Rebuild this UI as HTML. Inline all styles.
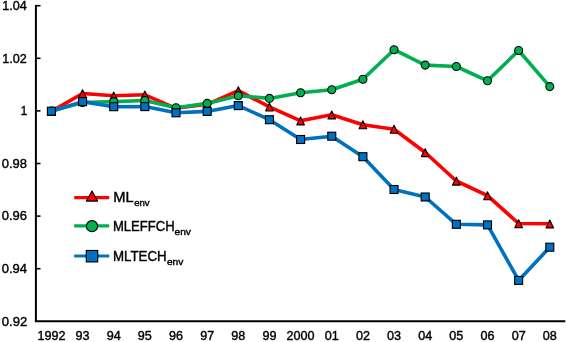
<!DOCTYPE html>
<html><head><meta charset="utf-8">
<style>
html,body{margin:0;padding:0;background:#fff;}
body{width:567px;height:342px;position:relative;overflow:hidden;}
svg{position:absolute;left:0;top:0;will-change:transform;}
text{font-family:"Liberation Sans",sans-serif;fill:#000;stroke:#000;stroke-width:0.4px;}
</style></head>
<body>
<svg width="567" height="342" viewBox="0 0 567 342">
<line x1="35.9" y1="4.9" x2="35.9" y2="321.3" stroke="#000" stroke-width="2"/>
<line x1="34.9" y1="321.3" x2="565.3" y2="321.3" stroke="#000" stroke-width="1.9"/>
<line x1="35.9" y1="5.7" x2="40.5" y2="5.7" stroke="#000" stroke-width="1.6"/>
<line x1="35.9" y1="58.3" x2="40.5" y2="58.3" stroke="#000" stroke-width="1.6"/>
<line x1="35.9" y1="110.9" x2="40.5" y2="110.9" stroke="#000" stroke-width="1.6"/>
<line x1="35.9" y1="163.5" x2="40.5" y2="163.5" stroke="#000" stroke-width="1.6"/>
<line x1="35.9" y1="216.1" x2="40.5" y2="216.1" stroke="#000" stroke-width="1.6"/>
<line x1="35.9" y1="268.7" x2="40.5" y2="268.7" stroke="#000" stroke-width="1.6"/>
<polyline points="51.40,111.40 82.55,93.50 113.70,95.80 144.85,94.80 176.00,108.30 207.15,104.30 238.30,90.60 269.45,106.90 300.60,120.80 331.75,114.80 362.90,124.70 394.05,129.20 425.20,152.50 456.35,181.00 487.50,195.60 518.65,223.50 549.80,223.80" fill="none" stroke="#ff0000" stroke-width="3.6" stroke-linejoin="round" stroke-linecap="round"/>
<polygon points="51.40,107.55 55.20,115.50 47.60,115.50" fill="#ff0000" stroke="#000" stroke-width="1.1" stroke-linejoin="round"/>
<polygon points="82.55,89.65 86.35,97.60 78.75,97.60" fill="#ff0000" stroke="#000" stroke-width="1.1" stroke-linejoin="round"/>
<polygon points="113.70,91.95 117.50,99.90 109.90,99.90" fill="#ff0000" stroke="#000" stroke-width="1.1" stroke-linejoin="round"/>
<polygon points="144.85,90.95 148.65,98.90 141.05,98.90" fill="#ff0000" stroke="#000" stroke-width="1.1" stroke-linejoin="round"/>
<polygon points="176.00,104.45 179.80,112.40 172.20,112.40" fill="#ff0000" stroke="#000" stroke-width="1.1" stroke-linejoin="round"/>
<polygon points="207.15,100.45 210.95,108.40 203.35,108.40" fill="#ff0000" stroke="#000" stroke-width="1.1" stroke-linejoin="round"/>
<polygon points="238.30,86.75 242.10,94.70 234.50,94.70" fill="#ff0000" stroke="#000" stroke-width="1.1" stroke-linejoin="round"/>
<polygon points="269.45,103.05 273.25,111.00 265.65,111.00" fill="#ff0000" stroke="#000" stroke-width="1.1" stroke-linejoin="round"/>
<polygon points="300.60,116.95 304.40,124.90 296.80,124.90" fill="#ff0000" stroke="#000" stroke-width="1.1" stroke-linejoin="round"/>
<polygon points="331.75,110.95 335.55,118.90 327.95,118.90" fill="#ff0000" stroke="#000" stroke-width="1.1" stroke-linejoin="round"/>
<polygon points="362.90,120.85 366.70,128.80 359.10,128.80" fill="#ff0000" stroke="#000" stroke-width="1.1" stroke-linejoin="round"/>
<polygon points="394.05,125.35 397.85,133.30 390.25,133.30" fill="#ff0000" stroke="#000" stroke-width="1.1" stroke-linejoin="round"/>
<polygon points="425.20,148.65 429.00,156.60 421.40,156.60" fill="#ff0000" stroke="#000" stroke-width="1.1" stroke-linejoin="round"/>
<polygon points="456.35,177.15 460.15,185.10 452.55,185.10" fill="#ff0000" stroke="#000" stroke-width="1.1" stroke-linejoin="round"/>
<polygon points="487.50,191.75 491.30,199.70 483.70,199.70" fill="#ff0000" stroke="#000" stroke-width="1.1" stroke-linejoin="round"/>
<polygon points="518.65,219.65 522.45,227.60 514.85,227.60" fill="#ff0000" stroke="#000" stroke-width="1.1" stroke-linejoin="round"/>
<polygon points="549.80,219.95 553.60,227.90 546.00,227.90" fill="#ff0000" stroke="#000" stroke-width="1.1" stroke-linejoin="round"/>
<polyline points="51.40,111.10 82.55,102.50 113.70,101.60 144.85,100.50 176.00,107.70 207.15,103.40 238.30,95.70 269.45,98.40 300.60,92.70 331.75,89.70 362.90,79.30 394.05,49.70 425.20,65.10 456.35,66.50 487.50,80.80 518.65,50.50 549.80,86.60" fill="none" stroke="#00b050" stroke-width="3.6" stroke-linejoin="round" stroke-linecap="round"/>
<circle cx="51.40" cy="111.10" r="4.00" fill="#00b050" stroke="#000" stroke-width="1.1"/>
<circle cx="82.55" cy="102.50" r="4.00" fill="#00b050" stroke="#000" stroke-width="1.1"/>
<circle cx="113.70" cy="101.60" r="4.00" fill="#00b050" stroke="#000" stroke-width="1.1"/>
<circle cx="144.85" cy="100.50" r="4.00" fill="#00b050" stroke="#000" stroke-width="1.1"/>
<circle cx="176.00" cy="107.70" r="4.00" fill="#00b050" stroke="#000" stroke-width="1.1"/>
<circle cx="207.15" cy="103.40" r="4.00" fill="#00b050" stroke="#000" stroke-width="1.1"/>
<circle cx="238.30" cy="95.70" r="4.00" fill="#00b050" stroke="#000" stroke-width="1.1"/>
<circle cx="269.45" cy="98.40" r="4.00" fill="#00b050" stroke="#000" stroke-width="1.1"/>
<circle cx="300.60" cy="92.70" r="4.00" fill="#00b050" stroke="#000" stroke-width="1.1"/>
<circle cx="331.75" cy="89.70" r="4.00" fill="#00b050" stroke="#000" stroke-width="1.1"/>
<circle cx="362.90" cy="79.30" r="4.00" fill="#00b050" stroke="#000" stroke-width="1.1"/>
<circle cx="394.05" cy="49.70" r="4.00" fill="#00b050" stroke="#000" stroke-width="1.1"/>
<circle cx="425.20" cy="65.10" r="4.00" fill="#00b050" stroke="#000" stroke-width="1.1"/>
<circle cx="456.35" cy="66.50" r="4.00" fill="#00b050" stroke="#000" stroke-width="1.1"/>
<circle cx="487.50" cy="80.80" r="4.00" fill="#00b050" stroke="#000" stroke-width="1.1"/>
<circle cx="518.65" cy="50.50" r="4.00" fill="#00b050" stroke="#000" stroke-width="1.1"/>
<circle cx="549.80" cy="86.60" r="4.00" fill="#00b050" stroke="#000" stroke-width="1.1"/>
<polyline points="51.40,111.20 82.55,101.60 113.70,106.70 144.85,106.60 176.00,112.80 207.15,111.40 238.30,105.60 269.45,119.70 300.60,139.50 331.75,136.20 362.90,156.70 394.05,189.50 425.20,197.00 456.35,224.30 487.50,224.90 518.65,280.40 549.80,247.20" fill="none" stroke="#0070c0" stroke-width="3.6" stroke-linejoin="round" stroke-linecap="round"/>
<rect x="47.40" y="107.20" width="8.00" height="8.00" fill="#0070c0" stroke="#000" stroke-width="1.1"/>
<rect x="78.55" y="97.60" width="8.00" height="8.00" fill="#0070c0" stroke="#000" stroke-width="1.1"/>
<rect x="109.70" y="102.70" width="8.00" height="8.00" fill="#0070c0" stroke="#000" stroke-width="1.1"/>
<rect x="140.85" y="102.60" width="8.00" height="8.00" fill="#0070c0" stroke="#000" stroke-width="1.1"/>
<rect x="172.00" y="108.80" width="8.00" height="8.00" fill="#0070c0" stroke="#000" stroke-width="1.1"/>
<rect x="203.15" y="107.40" width="8.00" height="8.00" fill="#0070c0" stroke="#000" stroke-width="1.1"/>
<rect x="234.30" y="101.60" width="8.00" height="8.00" fill="#0070c0" stroke="#000" stroke-width="1.1"/>
<rect x="265.45" y="115.70" width="8.00" height="8.00" fill="#0070c0" stroke="#000" stroke-width="1.1"/>
<rect x="296.60" y="135.50" width="8.00" height="8.00" fill="#0070c0" stroke="#000" stroke-width="1.1"/>
<rect x="327.75" y="132.20" width="8.00" height="8.00" fill="#0070c0" stroke="#000" stroke-width="1.1"/>
<rect x="358.90" y="152.70" width="8.00" height="8.00" fill="#0070c0" stroke="#000" stroke-width="1.1"/>
<rect x="390.05" y="185.50" width="8.00" height="8.00" fill="#0070c0" stroke="#000" stroke-width="1.1"/>
<rect x="421.20" y="193.00" width="8.00" height="8.00" fill="#0070c0" stroke="#000" stroke-width="1.1"/>
<rect x="452.35" y="220.30" width="8.00" height="8.00" fill="#0070c0" stroke="#000" stroke-width="1.1"/>
<rect x="483.50" y="220.90" width="8.00" height="8.00" fill="#0070c0" stroke="#000" stroke-width="1.1"/>
<rect x="514.65" y="276.40" width="8.00" height="8.00" fill="#0070c0" stroke="#000" stroke-width="1.1"/>
<rect x="545.80" y="243.20" width="8.00" height="8.00" fill="#0070c0" stroke="#000" stroke-width="1.1"/>
<line x1="74.2" y1="197.7" x2="109.2" y2="197.7" stroke="#ff0000" stroke-width="3.2"/>
<polygon points="92.00,191.00 97.60,201.10 86.40,201.10" fill="#ff0000" stroke="#000" stroke-width="1.1" stroke-linejoin="round"/>
<line x1="74.2" y1="225.9" x2="109.2" y2="225.9" stroke="#00b050" stroke-width="3.2"/>
<circle cx="92.00" cy="226.20" r="5.60" fill="#00b050" stroke="#000" stroke-width="1.1"/>
<line x1="74.2" y1="256.0" x2="109.2" y2="256.0" stroke="#0070c0" stroke-width="3.2"/>
<rect x="86.25" y="250.45" width="11.50" height="11.50" fill="#0070c0" stroke="#000" stroke-width="1.1"/>
<text x="113.23" y="201.65" font-size="14.0" textLength="20.40" lengthAdjust="spacingAndGlyphs">ML</text>
<text x="134.17" y="205.50" font-size="9.3" textLength="15.50" lengthAdjust="spacingAndGlyphs">env</text>
<text x="112.95" y="231.35" font-size="14.0" textLength="61.82" lengthAdjust="spacingAndGlyphs">MLEFFCH</text>
<text x="174.54" y="234.90" font-size="9.3" textLength="16.43" lengthAdjust="spacingAndGlyphs">env</text>
<text x="112.94" y="261.05" font-size="14.0" textLength="53.65" lengthAdjust="spacingAndGlyphs">MLTECH</text>
<text x="166.94" y="264.80" font-size="9.3" textLength="16.43" lengthAdjust="spacingAndGlyphs">env</text>
<text x="2.35" y="10.05" font-size="12.6" textLength="24.54" lengthAdjust="spacingAndGlyphs">1.04</text>
<text x="2.35" y="62.65" font-size="12.6" textLength="24.54" lengthAdjust="spacingAndGlyphs">1.02</text>
<text x="20.63" y="115.25" font-size="12.6" textLength="6.47" lengthAdjust="spacingAndGlyphs">1</text>
<text x="1.78" y="167.85" font-size="12.6" textLength="25.25" lengthAdjust="spacingAndGlyphs">0.98</text>
<text x="1.78" y="220.45" font-size="12.6" textLength="25.25" lengthAdjust="spacingAndGlyphs">0.96</text>
<text x="1.78" y="273.05" font-size="12.6" textLength="25.25" lengthAdjust="spacingAndGlyphs">0.94</text>
<text x="1.78" y="325.65" font-size="12.6" textLength="25.39" lengthAdjust="spacingAndGlyphs">0.92</text>
<text x="51.40" y="340.3" font-size="12.6" text-anchor="middle">1992</text>
<text x="82.55" y="340.3" font-size="12.6" text-anchor="middle">93</text>
<text x="113.70" y="340.3" font-size="12.6" text-anchor="middle">94</text>
<text x="144.85" y="340.3" font-size="12.6" text-anchor="middle">95</text>
<text x="176.00" y="340.3" font-size="12.6" text-anchor="middle">96</text>
<text x="207.15" y="340.3" font-size="12.6" text-anchor="middle">97</text>
<text x="238.30" y="340.3" font-size="12.6" text-anchor="middle">98</text>
<text x="269.45" y="340.3" font-size="12.6" text-anchor="middle">99</text>
<text x="300.60" y="340.3" font-size="12.6" text-anchor="middle">2000</text>
<text x="331.75" y="340.3" font-size="12.6" text-anchor="middle">01</text>
<text x="362.90" y="340.3" font-size="12.6" text-anchor="middle">02</text>
<text x="394.05" y="340.3" font-size="12.6" text-anchor="middle">03</text>
<text x="425.20" y="340.3" font-size="12.6" text-anchor="middle">04</text>
<text x="456.35" y="340.3" font-size="12.6" text-anchor="middle">05</text>
<text x="487.50" y="340.3" font-size="12.6" text-anchor="middle">06</text>
<text x="518.65" y="340.3" font-size="12.6" text-anchor="middle">07</text>
<text x="549.80" y="340.3" font-size="12.6" text-anchor="middle">08</text>
</svg>
</body></html>
